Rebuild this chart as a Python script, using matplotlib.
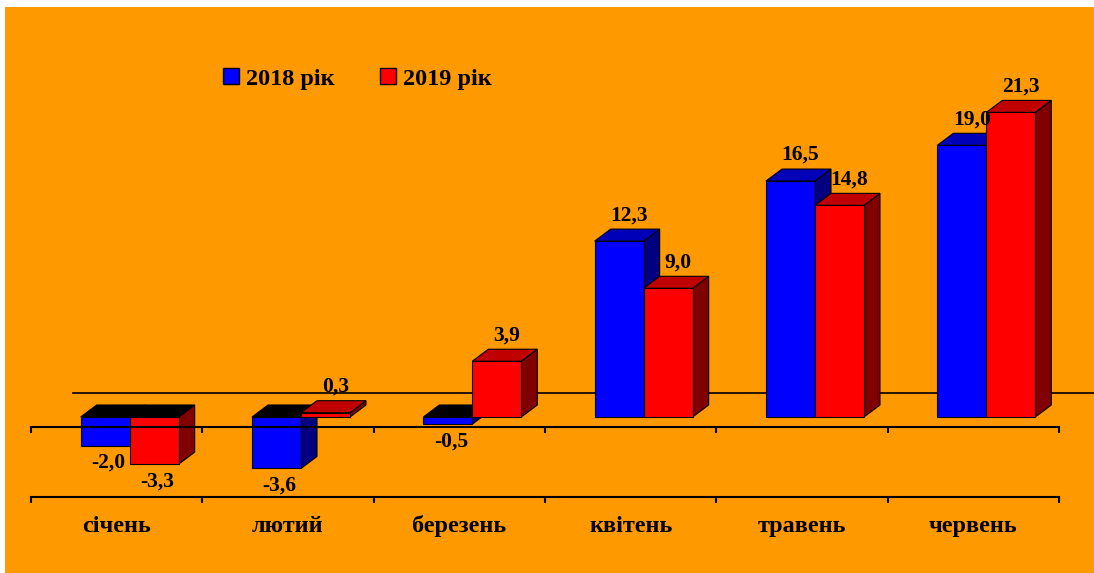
import matplotlib
matplotlib.use("Agg")
import matplotlib.pyplot as plt
from matplotlib.patches import Polygon, Rectangle, Patch

# --- data ---
months = ["січень", "лютий", "березень", "квітень", "травень", "червень"]
series_names = ["2018 рік", "2019 рік"]
values_2018 = [-2.0, -3.6, -0.5, 12.3, 16.5, 19.0]
values_2019 = [-3.3, 0.3, 3.9, 9.0, 14.8, 21.3]

# colours: front, top, side
face_cols = ["#0000FF", "#FF0000"]
top_cols = ["#0000B8", "#C00000"]
side_cols = ["#000080", "#800000"]
bg_col = "#FF9900"

W, H = 1094, 573
fig = plt.figure(figsize=(W / 100, H / 100), dpi=100, facecolor="white")
# orange chart area (small white margin left/top like the source)
fig.patches.append(Rectangle((5 / W, 0), 1, 1 - 7 / H, transform=fig.transFigure,
                             facecolor=bg_col, edgecolor="none", zorder=-1))

ax = fig.add_axes([0, 0, 1, 1])
ax.set_zorder(1)
ax.set_facecolor("none")
ax.axis("off")

# pixel -> data scale: one category = 171.3 px, one unit = 14.3 px
px_x = 171.33
px_y = 14.3
ax.set_xlim(-31 / px_x, (W - 31) / px_x)
ax.set_ylim((417 - H) / px_y, 417 / px_y)

bar_w = 49 / px_x
shift = 13 / px_x          # pair sits a bit right of the category centre
dx, dy = 16 / px_x, 12 / px_y          # bar depth
fdx, fdy = 42 / px_x, 34 / px_y        # floor depth
floor_front = -10 / px_y
floor_low = -5.6
n = len(months)

# back wall zero line (behind bars)
ax.plot([fdx, n + fdx], [floor_front + fdy] * 2, color="black", lw=1.2, zorder=1)

zo = 2
for s, vals in enumerate([values_2018, values_2019]):
    lefts = [i + 0.5 + shift - bar_w + s * bar_w for i in range(n)]
    for x0, v in zip(lefts, vals):
        x1 = x0 + bar_w
        yt, yl = max(v, 0), min(v, 0)
        side = Polygon([(x1, yl), (x1, yt), (x1 + dx, yt + dy), (x1 + dx, yl + dy)],
                       closed=True, facecolor=side_cols[s], edgecolor="black", lw=0.8, zorder=zo)
        top = Polygon([(x0, yt), (x1, yt), (x1 + dx, yt + dy), (x0 + dx, yt + dy)],
                      closed=True, facecolor=top_cols[s] if v > 0 else "black",
                      edgecolor="black", lw=0.8, zorder=zo)
        ax.add_patch(side)
        ax.add_patch(top)
    ax.bar(lefts, vals, width=bar_w, align="edge", color=face_cols[s],
           edgecolor="black", linewidth=0.8, zorder=zo + 1)
    for x0, v in zip(lefts, vals):
        lab = f"{v:.1f}".replace(".", ",")
        if v >= 0:
            ax.text(x0 + bar_w / 2 + dx / 2 + 2 / px_x, v + dy + 4 / px_y, lab, ha="center",
                    va="bottom", fontsize=15.5, fontweight="bold", family="Liberation Serif", zorder=6)
        else:
            ax.text(x0 + bar_w / 2 + 3 / px_x, v - 7 / px_y, lab, ha="center", va="top",
                    fontsize=15.5, fontweight="bold", family="Liberation Serif", zorder=6)
    zo += 2

# front axis lines with category ticks
tick_len = 6 / px_y
for yy in [floor_front, floor_low]:
    ax.plot([0, n], [yy, yy], color="black", lw=1.5, zorder=7)
    ax.vlines(range(n + 1), yy - tick_len, yy, color="black", lw=1.5, zorder=7)

for i, m in enumerate(months):
    ax.text(i + 0.5, floor_low - 29 / px_y, m, ha="center", va="center",
            fontsize=17.5, fontweight="bold", family="Liberation Serif")

handles = [Patch(facecolor=face_cols[k], edgecolor="black", label=series_names[k]) for k in range(2)]
ax.legend(handles=handles, loc="center left", bbox_to_anchor=(211 / W, 1 - 79 / H),
          bbox_transform=fig.transFigure, ncol=2, frameon=False, borderpad=0,
          handlelength=0.65, handleheight=0.65, handletextpad=0.3, columnspacing=1.87,
          prop={"family": "Liberation Serif", "weight": "bold", "size": 17.5})

fig.savefig("out.png", dpi=100, facecolor=fig.get_facecolor())
